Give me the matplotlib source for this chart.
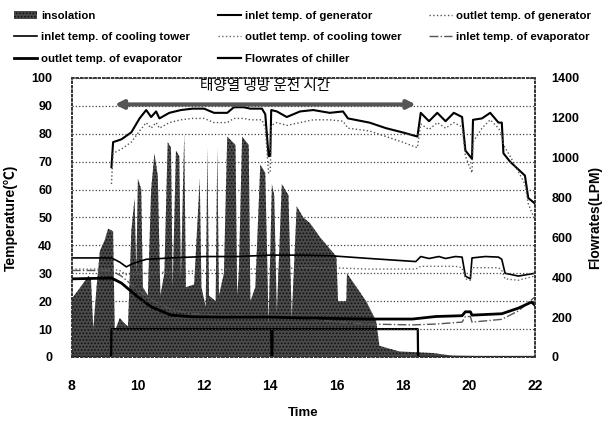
import numpy as np
import matplotlib.pyplot as plt
from matplotlib.lines import Line2D
from matplotlib.patches import Patch

plt.rcParams['font.family'] = ['Liberation Sans', 'Noto Sans CJK KR', 'DejaVu Sans']
plt.rcParams['font.weight'] = 'bold'
plt.rcParams['axes.labelweight'] = 'bold'
plt.rcParams['hatch.linewidth'] = 0.8

# insolation (W/m2, drawn on the right scale)
ins_t = [8.0, 8.2, 8.5, 8.58, 8.65, 8.75, 8.85, 9.0, 9.1, 9.25, 9.3, 9.45, 9.6, 9.7,
         9.8, 9.9, 9.95, 10.0, 10.1, 10.15, 10.3, 10.4, 10.5, 10.6, 10.68, 10.8, 10.9,
         11.0, 11.05, 11.15, 11.25, 11.3, 11.4, 11.45, 11.7, 11.87, 11.92, 12.05, 12.1,
         12.15, 12.35, 12.4, 12.45, 12.6, 12.7, 12.95, 13.0, 13.05, 13.15, 13.35, 13.4,
         13.55, 13.7, 13.85, 13.95, 14.05, 14.12, 14.2, 14.35, 14.55, 14.65, 14.8, 15.0,
         15.2, 15.5, 16.0, 16.05, 16.3, 16.32, 16.9, 17.2, 17.3, 17.9, 18.9, 19.5, 22.0]
ins_v = [294, 336, 406, 392, 140, 350, 532, 588, 644, 630, 126, 196, 168, 154,
         630, 798, 420, 896, 840, 350, 308, 840, 1022, 910, 308, 420, 1078,
         1050, 350, 1036, 1008, 392, 1120, 350, 364, 896, 350, 252, 1050,
         308, 280, 1050, 308, 420, 1106, 1064, 308, 420, 1106, 1064, 280,
         350, 966, 924, 168, 868, 812, 224, 868, 812, 196, 756, 700,
         672, 602, 504, 280, 280, 420, 280, 182, 56, 28, 20, 7, 0]

# generator
gen_t = [9.2, 9.25, 9.5, 9.8, 10.05, 10.25, 10.4, 10.55, 10.65, 10.95, 11.3, 11.65, 12.0,
         12.3, 12.7, 12.9, 13.2, 13.4, 13.75, 13.85, 13.95, 14.0, 14.03, 14.2, 14.5, 14.9,
         15.3, 15.8, 16.2, 16.35, 17.0, 17.5, 18.0, 18.45, 18.55, 18.8, 19.05, 19.3, 19.55,
         19.8, 19.9, 20.1, 20.13, 20.4, 20.65, 20.9, 21.0, 21.05, 21.25, 21.7, 21.8, 22.0]
gen_in = [68, 77, 78, 80.5, 85.5, 88.5, 86, 88, 85.5, 87.5, 88.5, 89, 89,
          87.5, 87.5, 89.5, 89.5, 89, 89, 87, 72, 72, 88.5, 88, 86, 88,
          88.5, 87.5, 88, 85.5, 84, 82, 80.5, 79, 87.5, 84.5, 87.5, 84.5, 87.5,
          86, 74, 71, 85, 85.5, 87.5, 84, 84, 73, 70, 65, 57, 55]
gen_out = [62, 73, 74.5, 77, 81, 84, 82, 84, 82, 84, 85, 85.5, 85.5,
           84, 84, 85.5, 85.5, 85, 85, 82, 66, 66, 83, 84, 83, 84,
           85, 85, 84.5, 82, 81, 79, 77, 75, 83.5, 81.5, 84, 82, 84,
           82.5, 72, 66, 77, 82, 85, 82, 80, 76, 72, 62, 55, 49]

# cooling tower
ct_t = [8.0, 9.2, 9.45, 9.65, 9.85, 10.25, 11.0, 12.0, 13.0, 14.0, 15.0, 15.8, 17.0,
        18.4, 18.55, 18.8, 19.1, 19.3, 19.6, 19.8, 19.9, 20.05, 20.1, 20.5, 20.9, 21.0,
        21.1, 21.5, 22.0]
ct_in = [35.5, 35.5, 34, 32.3, 33.5, 35, 35.5, 36, 36, 36.5, 36.5, 36.3, 35.3,
         34.2, 36, 35.3, 36, 35.3, 36, 35.8, 29, 28, 35.5, 36, 35.8, 35,
         30, 29, 30]
ct_out = [31.5, 31.5, 31, 29.5, 29.8, 30, 30.5, 31, 31.5, 31.5, 32, 32, 31.5,
          31.5, 32.5, 32.5, 32.5, 32.5, 32.5, 32, 28, 27.5, 32, 32, 32, 31,
          28, 27.5, 29]

# evaporator
ev_t = [8.0, 9.2, 9.5, 10.0, 10.4, 11.0, 11.65, 12.5, 14.0, 15.0, 16.0, 17.0, 18.3,
        19.0, 19.8, 19.9, 20.05, 20.1, 21.0, 21.5, 21.9, 22.0]
ev_in = [31, 31, 29, 24, 20.5, 17, 15.5, 15, 14.8, 14, 12.5, 11.8, 11.5,
         11.8, 12.5, 14.5, 14.5, 12.5, 13.5, 16.5, 20.5, 21.5]
ev_out = [28, 28.3, 26.5, 21.5, 18, 15, 14.4, 14.3, 14.3, 14, 13.8, 13.6, 13.6,
          14.5, 14.8, 16.2, 16.2, 15, 15.5, 17.5, 19.7, 18.6]

# chiller flowrate (LPM)
flow_t = [8.0, 9.19, 9.2, 14.03, 14.04, 14.06, 14.07, 18.46, 18.47, 22.0]
flow_v = [0, 0, 140, 140, 0, 0, 140, 140, 0, 0]

arrow_span = (9.3, 18.4)
arrow_y = 90.5
run_label = '태양열 냉방 운전 시간'

fig = plt.figure(figsize=(6.03, 4.26), dpi=100)
ax = fig.add_axes([0.119, 0.162, 0.768, 0.655])
ax2 = ax.twinx()
ax.set_zorder(ax2.get_zorder() + 1)
ax.patch.set_visible(False)

ins = ax2.fill_between(ins_t, ins_v, 0, facecolor='#4a4a4a', edgecolor='#111111',
                       hatch='.....', linewidth=0)
fl, = ax2.plot(flow_t, flow_v, color='black', lw=1.6)

gi, = ax.plot(gen_t, gen_in, color='black', lw=1.5)
go, = ax.plot(gen_t, gen_out, color='#555555', lw=1.0, ls=':')
ci, = ax.plot(ct_t, ct_in, color='black', lw=1.2)
co, = ax.plot(ct_t, ct_out, color='#666666', lw=1.0, ls=':')
ei, = ax.plot(ev_t, ev_in, color='#555555', lw=1.0, ls='-.')
eo, = ax.plot(ev_t, ev_out, color='black', lw=2.0)

ax.set_xlim(8, 22)
ax.set_ylim(0, 100)
ax2.set_ylim(0, 1400)
ax.set_xticks(range(8, 23, 2))
ax.set_yticks(range(0, 101, 10))
ax2.set_yticks(range(0, 1401, 200))
ax.yaxis.grid(True, color='#444444', ls=':', lw=0.9)
ax.set_axisbelow(False)

for a in (ax, ax2):
    for s in a.spines.values():
        s.set_linestyle(':')
        s.set_color('#333333')
        s.set_linewidth(1.2)
ax.tick_params(axis='y', length=0, pad=14, labelsize=9)
ax.tick_params(axis='x', length=0, pad=16, labelsize=10)
ax2.tick_params(axis='y', length=0, pad=12, labelsize=9)
for t in ax.get_xticklabels() + ax.get_yticklabels() + ax2.get_yticklabels():
    t.set_fontweight('bold')

ax.set_xlabel('Time', fontsize=9.5, fontweight='bold', labelpad=10)
ax.set_ylabel('Temperature(℃)', fontsize=10, fontweight='bold', labelpad=10)
ax2.set_ylabel('Flowrates(LPM)', fontsize=10, fontweight='bold', labelpad=6)

ax.annotate('', xy=(arrow_span[0], arrow_y), xytext=(arrow_span[1], arrow_y),
            arrowprops=dict(arrowstyle='<|-|>', color='#555555', lw=3,
                            mutation_scale=12, shrinkA=0, shrinkB=0))
ax.text(sum(arrow_span) / 2, 97.0, run_label, ha='center', va='center',
        fontsize=10.5, fontweight='normal', family=['Noto Sans CJK KR'])

ins_patch = Patch(facecolor='#4a4a4a', edgecolor='#111111', hatch='.....', lw=0)
handles = [ins_patch, ci, eo, gi, co, fl, go, ei]
labels = ['insolation', 'inlet temp. of cooling tower', 'outlet temp. of evaporator',
          'inlet temp. of generator', 'outlet temp. of cooling tower', 'Flowrates of chiller',
          'outlet temp. of generator', 'inlet temp. of evaporator']
leg = fig.legend(handles, labels, ncol=3, loc='upper left', bbox_to_anchor=(0.012, 0.99),
                 frameon=False, prop={'size': 8.2, 'weight': 'bold'}, handlelength=2.0,
                 handletextpad=0.4, columnspacing=2.4, labelspacing=1.0, borderaxespad=0.2)

plt.savefig('out.png', dpi=100)
plt.close()
